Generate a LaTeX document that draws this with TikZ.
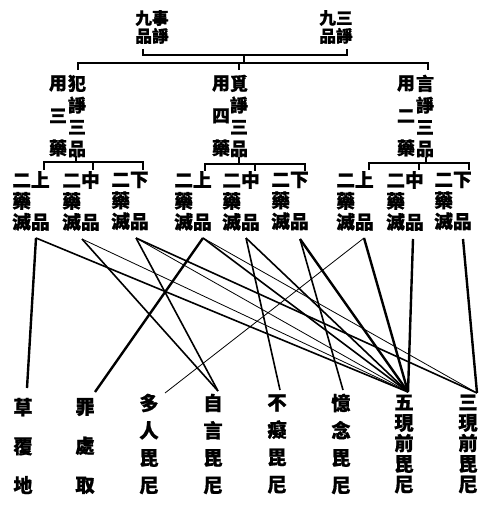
\documentclass[tikz,border=0pt]{standalone}
\usepackage{fontspec}
\setmainfont{Noto Sans CJK TC}[BoldFeatures={FakeBold=0.8}]

\begin{document}
\begin{tikzpicture}[x=0.75pt, y=-0.75pt,
  top/.style={inner sep=0pt, align=center, font=\bfseries\fontsize{12.5}{13.5}\selectfont},
  col/.style={inner sep=0pt, align=center, font=\bfseries\fontsize{13.5}{#1}\selectfont},
  leaf/.style={inner sep=0pt, align=left, font=\bfseries\fontsize{14}{15.75}\selectfont},
  med/.style={inner sep=0pt, align=center, font=\bfseries\fontsize{14.5}{#1}\selectfont},
  tree/.style={line width=1pt},
  link/.style={line width=1.2pt},
  fine/.style={line width=0.6pt},
  heavy/.style={line width=1.8pt}]
\useasboundingbox (0,0) rectangle (494,505);
% top
\node[top] (S1) at (152,27) {九事\\品諍};
\node[top] (S2) at (336,27) {九三\\品諍};
\draw[tree] (143,49) -- (143,55) -- (347,55) -- (347,49);
\draw[tree] (244,55) -- (244,63);
\draw[tree] (78,70) -- (78,63) -- (428,63) -- (428,70);
\draw[tree] (239,63) -- (239,70);
% three disputes
\node[col=24.4] (F1a) at (58,116) {用\\三\\藥};
\node[col=16.3] (F1b) at (77,116) {犯\\諍\\三\\品};
\node[col=24.4] (F2a) at (221,116) {用\\四\\藥};
\node[col=16.3] (F2b) at (239,116) {覓\\諍\\三\\品};
\node[col=24.4] (F3a) at (406,116) {用\\二\\藥};
\node[col=16.3] (F3b) at (425,116) {言\\諍\\三\\品};
\draw[tree] (76,156) -- (76,162);
\draw[tree] (44,170) -- (44,162) -- (143,162) -- (143,170);
\draw[tree] (93,162) -- (93,170);
\draw[tree] (239,157) -- (239,164);
\draw[tree] (205,171) -- (205,164) -- (305,164) -- (305,171);
\draw[tree] (255,164) -- (255,171);
\draw[tree] (426,157) -- (426,163);
\draw[tree] (369,170) -- (369,163) -- (469,163) -- (469,170);
\draw[tree] (419,163) -- (419,170);
% grades
\node[leaf] (L1) at (31,201) {二上\\藥\\滅品};
\node[leaf] (L2) at (81,201) {二中\\藥\\滅品};
\node[leaf] (L3) at (130,201) {二下\\藥\\滅品};
\node[leaf] (L4) at (193,201) {二上\\藥\\滅品};
\node[leaf] (L5) at (241,201) {二中\\藥\\滅品};
\node[leaf] (L6) at (290,201) {二下\\藥\\滅品};
\node[leaf] (L7) at (355,201) {二上\\藥\\滅品};
\node[leaf] (L8) at (405,201) {二中\\藥\\滅品};
\node[leaf] (L9) at (453,201) {二下\\藥\\滅品};
% seven medicines
\node[med=29.3] (M1) at (23,446) {草\\覆\\地};
\node[med=29.3] (M2) at (85,446) {罪\\處\\取};
\node[med=20.5] (M3) at (149,444) {多\\人\\毘\\尼};
\node[med=20.5] (M4) at (213,444) {自\\言\\毘\\尼};
\node[med=20.5] (M5) at (277,444) {不\\癡\\毘\\尼};
\node[med=20.5] (M6) at (341,444) {憶\\念\\毘\\尼};
\node[med=15.4] (M7) at (404,444) {五\\現\\前\\毘\\尼};
\node[med=15.4] (M8) at (468,444) {三\\現\\前\\毘\\尼};
% line ends
\coordinate (l1) at (36,238);
\coordinate (l2) at (82,239);
\coordinate (l3) at (136,238);
\coordinate (l4) at (203,238);
\coordinate (l5) at (246,238);
\coordinate (l6) at (300,239);
\coordinate (l7) at (364,238);
\coordinate (l8) at (413,239);
\coordinate (l9) at (463,239);
\coordinate (m1) at (27,388);
\coordinate (m2) at (95,392);
\coordinate (m3) at (165,393);
\coordinate (m4) at (218,391);
\coordinate (m5) at (280,390);
\coordinate (m6) at (343,390);
\coordinate (m7) at (408,392);
\coordinate (m8) at (477,393);
\path[heavy] (l1) edge (m1);
\path[link] (l1) edge (m7);
\path[link] (l2) edge (m4);
\path[fine] (l2) edge (m7);
\path[link] (l3) edge (m4);
\path[fine] (l3) edge (m7);
\path[link] (l3) edge (m8);
\path[heavy] (l4) edge (m2);
\path[link] (l4) edge (m7);
\path[fine] (l4) edge (m8);
\path[link] (l5) edge (m5);
\path[link] (l5) edge (m7);
\path[link] (l6) edge (m6);
\path[heavy] (l6) edge (m7);
\path[fine] (l7) edge (m3);
\path[heavy] (l7) edge (m7);
\path[heavy] (l8) edge (m7);
\path[heavy] (l9) edge (m8);
\end{tikzpicture}
\end{document}
